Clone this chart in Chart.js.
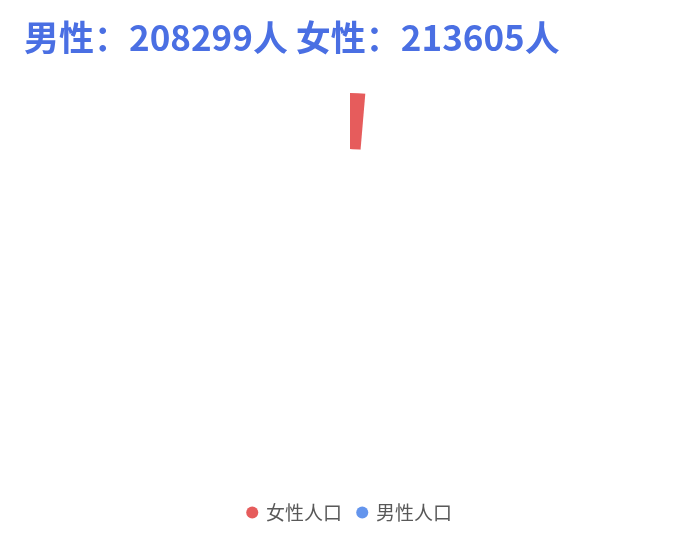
<!DOCTYPE html>
<html>
<head>
<meta charset="utf-8">
<script src="https://cdn.jsdelivr.net/npm/chart.js@4/dist/chart.umd.min.js"></script>
<style>
  html, body { margin: 0; padding: 0; background: #fff; }
  #wrap { width: 700px; height: 548px; }
</style>
</head>
<body>
<div id="wrap"><canvas id="myChart"></canvas></div>
<script>
const categories = ['女性人口', '男性人口'];
const population = [213605, 208299];
const sliceColors = ['#e65c5c', '#6495ed'];
const titleText = '男性：208299人 女性：213605人';

// the reference was captured while the ring was still sweeping in,
// so only the first few degrees are drawn
const revealDegrees = 4.85;

const revealClip = {
    id: 'revealClip',
    beforeDatasetsDraw(chart) {
        const arc = chart.getDatasetMeta(0).data[0];
        const ctx = chart.ctx;
        const start = -Math.PI / 2;
        ctx.save();
        ctx.beginPath();
        ctx.moveTo(arc.x, arc.y);
        ctx.arc(arc.x, arc.y, arc.outerRadius + 2, start, start + revealDegrees * Math.PI / 180);
        ctx.closePath();
        ctx.clip();
    },
    afterDatasetsDraw(chart) {
        chart.ctx.restore();
    }
};

document.addEventListener('DOMContentLoaded', () => {
    const chartElement = document.getElementById('myChart');

    new Chart(chartElement, {
        type: 'doughnut',
        data: {
            labels: categories,
            datasets: [{
                data: population,
                backgroundColor: sliceColors,
                borderWidth: 0,
                radius: 181,
                cutout: '69%'
            }]
        },
        options: {
            responsive: true,
            maintainAspectRatio: false,
            animation: false,
            layout: { padding: { left: 24, right: 24, top: 0, bottom: 16 } },
            plugins: {
                title: {
                    display: true,
                    text: titleText,
                    align: 'start',
                    color: '#4a6fe3',
                    font: { family: '"Noto Sans CJK SC", sans-serif', size: 35, weight: 'bold' },
                    padding: { top: 17, bottom: 2 }
                },
                legend: {
                    position: 'bottom',
                    labels: {
                        usePointStyle: true,
                        pointStyle: 'circle',
                        boxWidth: 8.5,
                        boxHeight: 8.5,
                        padding: 16,
                        color: '#595959',
                        font: { family: '"Noto Sans CJK SC", sans-serif', size: 19 }
                    }
                },
                tooltip: { enabled: false }
            }
        },
        plugins: [revealClip]
    });
});
</script>
</body>
</html>
